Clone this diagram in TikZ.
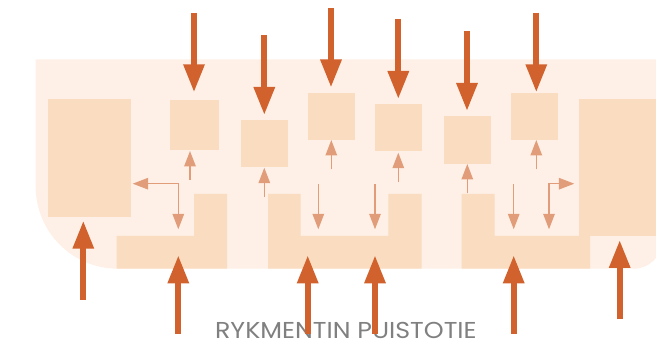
\documentclass[tikz,border=0pt]{standalone}
\usepackage{fontspec}
\setmainfont{Poppins}
\newfontfamily\labfont[FakeStretch=1.1]{Poppins}
\usetikzlibrary{arrows.meta}
\definecolor{bgc}{RGB}{254,240,230}
\definecolor{boxc}{RGB}{250,220,193}
\definecolor{bigc}{RGB}{210,98,45}
\definecolor{smallc}{RGB}{225,157,122}
\definecolor{txtc}{RGB}{128,128,128}
\tikzset{
  blk/.style={fill=boxc, draw=none, inner sep=0pt, outer sep=0pt, rectangle},
  bigarrow/.style={draw=bigc, line width=6pt, -{Triangle[length=28pt,width=20pt]}},
  smallarrow/.style={draw=smallc, line width=1.5pt, -{Triangle[length=15.5pt,width=11.5pt]}},
  smallboth/.style={draw=smallc, line width=1.5pt, {Triangle[length=15.5pt,width=11.5pt]}-{Triangle[length=15.5pt,width=11.5pt]}},
  label/.style={text=txtc, inner sep=0pt, text depth=0pt, font=\labfont\fontsize{23}{23}\selectfont}
}
\newcommand{\bx}[5]{\node[blk, minimum width=#4pt, minimum height=#5pt, anchor=north west] (#1) at (#2,#3) {};}
\begin{document}
\begin{tikzpicture}[x=1pt,y=-1pt]
\useasboundingbox (0,0) rectangle (656,344);
% background
\fill[bgc] (35.7,59.3) -- (662,59.3) -- (662,240.7)
  .. controls (662,256.2) and (649.5,268.7) .. (634,268.7)
  -- (117.7,268.7)
  .. controls (72.4,268.7) and (35.7,232) .. (35.7,186.7) -- cycle;
% boxes
\bx{lbox}{47.7}{99.3}{83}{117.7}
\bx{b1}{169.7}{100}{49}{49.7}
\bx{b2}{240.7}{120}{47}{46.7}
\bx{b3}{307.7}{93}{47.3}{46.7}
\bx{b4}{375}{104}{47}{46.7}
\bx{b5}{444}{116}{46.7}{47.7}
\bx{b6}{511}{93}{46.7}{46.7}
\bx{rbox}{578.5}{99.3}{82}{136.7}
% bottom shapes
\fill[boxc] (116.7,236) -- (194,236) -- (194,194) -- (227,194) -- (227,268.7) -- (116.7,268.7) -- cycle;
\fill[boxc] (268,194) -- (300.7,194) -- (300.7,236) -- (388.3,236) -- (388.3,194) -- (421.7,194) -- (421.7,268.7) -- (268,268.7) -- cycle;
\fill[boxc] (461.7,194) -- (494.7,194) -- (494.7,236) -- (590,236) -- (590,268.7) -- (461.7,268.7) -- cycle;
% small arrows
\coordinate (s1a) at (190,180);    \coordinate (s1b) at (190,151);
\coordinate (s2a) at (264.3,196.7);\coordinate (s2b) at (264.3,167.7);
\coordinate (s3a) at (331.3,169.3);\coordinate (s3b) at (331.3,140);
\coordinate (s4a) at (398.3,181.7);\coordinate (s4b) at (398.3,152.7);
\coordinate (s5a) at (467.3,193.3);\coordinate (s5b) at (467.3,164);
\coordinate (s6a) at (536.3,169.3);\coordinate (s6b) at (536.3,140);
\coordinate (d1a) at (318.3,184);  \coordinate (d1b) at (318.3,229.3);
\coordinate (d2a) at (375,184);    \coordinate (d2b) at (375,229.3);
\coordinate (d3a) at (513.7,184);  \coordinate (d3b) at (513.7,229.3);
\coordinate (e1a) at (132.7,183.7); \coordinate (e1b) at (178.3,229.3);
\coordinate (e2a) at (549,229.3);   \coordinate (e2b) at (574.3,183.7);
\foreach \p in {s1,s2,s3,s4,s5,s6,d1,d2,d3} \draw[smallarrow] (\p a) -- (\p b);
\draw[smallboth] (e1a) -| (e1b);
\draw[smallboth] (e2a) |- (e2b);
% label
\node[label, anchor=base] (street) at (345.9,338.3) {RYKMENTIN PUISTOTIE};
% big arrows top
\coordinate (t1a) at (194,13);    \coordinate (t1b) at (194,92.3);
\coordinate (t2a) at (264.3,35);  \coordinate (t2b) at (264.3,115);
\coordinate (t3a) at (331,8);     \coordinate (t3b) at (331,87.5);
\coordinate (t4a) at (398.3,19);  \coordinate (t4b) at (398.3,99);
\coordinate (t5a) at (467,31);    \coordinate (t5b) at (467,111);
\coordinate (t6a) at (536.3,12.7);\coordinate (t6b) at (536.3,92.3);
% big arrows bottom
\coordinate (u1a) at (83.3,300);  \coordinate (u1b) at (83.3,220.7);
\coordinate (u2a) at (178.3,334); \coordinate (u2b) at (178.3,255.3);
\coordinate (u3a) at (307.7,334); \coordinate (u3b) at (307.7,255.3);
\coordinate (u4a) at (375,334);   \coordinate (u4b) at (375,255.3);
\coordinate (u5a) at (513.7,334); \coordinate (u5b) at (513.7,255.3);
\coordinate (u6a) at (619.7,319.3);\coordinate (u6b) at (619.7,240);
\foreach \p in {t1,t2,t3,t4,t5,t6,u1,u2,u3,u4,u5,u6} \draw[bigarrow] (\p a) -- (\p b);
\end{tikzpicture}
\end{document}
